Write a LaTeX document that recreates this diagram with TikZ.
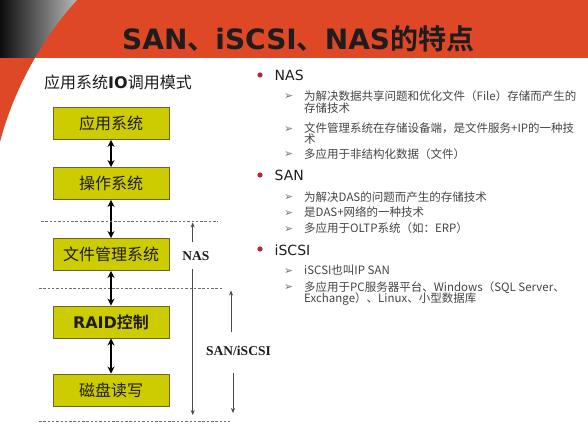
\documentclass[tikz,border=0pt]{standalone}
\usepackage{fontspec}
\setmainfont{DejaVu Sans}
\newfontfamily\cjk{Noto Sans CJK SC}[BoldFont={Noto Sans CJK SC Bold}]
\newfontfamily\dejavu{DejaVu Sans}
\newfontfamily\tnr{Liberation Serif}
\usetikzlibrary{arrows.meta}
\definecolor{hdrred}{RGB}{222,72,38}
\definecolor{boxfill}{RGB}{204,204,0}
\definecolor{boxline}{RGB}{105,100,50}
\definecolor{txtgray}{RGB}{68,68,68}
\definecolor{dotred}{RGB}{192,32,52}
\definecolor{dashgray}{RGB}{110,110,110}
\definecolor{darktxt}{RGB}{30,28,28}
\tikzset{
  iobox/.style={draw=boxline, line width=0.9pt, fill=boxfill, minimum width=116pt, minimum height=32pt, inner sep=0pt, text=darktxt, font=\cjk\fontsize{16}{16}\selectfont},
  link/.style={line width=2pt, {Stealth[length=7pt,width=7pt]}-{Stealth[length=7pt,width=7pt]}},
  sepline/.style={dashgray, line width=0.6pt, dash pattern=on 2.5pt off 1.8pt},
  rangearrow/.style={darktxt!80, line width=0.6pt, -{Stealth[length=5pt,width=4pt]}},
  rangelabel/.style={inner sep=0pt, text=darktxt, font=\tnr\bfseries\fontsize{13.5}{13.5}\selectfont},
  head/.style={anchor=base west, inner sep=0pt, text=darktxt, font=\dejavu\fontsize{14}{14}\selectfont},
  item/.style={anchor=base west, inner sep=0pt, text=txtgray, font=\cjk\fontsize{11.5}{11.5}\selectfont},
  arrowmark/.style={anchor=base west, inner sep=0pt, text=black!55, font=\dejavu\fontsize{11}{11}\selectfont},
}
\begin{document}
\begin{tikzpicture}[x=1pt, y=-1pt]
\useasboundingbox (0,0) rectangle (588,438);
% header band
\fill[hdrred] (0,0) rectangle (588,58);
\fill[hdrred] (0,0) -- (77,0) .. controls (40,40) and (12,95) .. (0,142) -- cycle;
\begin{scope}
  \clip (0,0) rectangle (588,58);
  \shade[left color=black!95, right color=black!28] (0,0) -- (77,0) .. controls (40,40) and (12,95) .. (0,142) -- cycle;
\end{scope}
\node[anchor=base west, inner sep=0pt, text=darktxt, font=\bfseries\fontsize{28}{28}\selectfont] (title) at (122,50)
  {\dejavu SAN\cjk 、\dejavu iSCSI\cjk 、\dejavu NAS\cjk 的特点};

% left column
\node[inner sep=0pt, text=darktxt, font=\cjk\fontsize{16}{16}\selectfont] (lefthead) at (118,82)
  {应用系统\textbf{\dejavu IO}调用模式};
\node[iobox] (b1) at (111,123.5) {应用系统};
\node[iobox] (b2) at (111,183.5) {操作系统};
\node[iobox] (b3) at (111,254.5) {文件管理系统};
\node[iobox] (b4) at (111,322) {\textbf{\dejavu RAID}\textbf{控制}};
\node[iobox] (b5) at (111,390) {磁盘读写};
\draw[link] (b1.south) -- (b2.north);
\draw[link] (b2.south) -- (b3.north);
\draw[link] (b3.south) -- (b4.north);
\draw[link] (b4.south) -- (b5.north);

\coordinate (d1a) at (41,221);
\coordinate (d1b) at (218,221);
\coordinate (d2a) at (39,288.5);
\coordinate (d2b) at (223,288.5);
\coordinate (d3a) at (39,421);
\coordinate (d3b) at (230,421);
\draw[sepline] (d1a) -- (d1b);
\draw[sepline] (d2a) -- (d2b);
\draw[sepline] (d3a) -- (d3b);

\node[rangelabel] (nas) at (196,256.5) {NAS};
\coordinate (nasup0) at (192.7,242);
\coordinate (nasup1) at (192.7,222.5);
\coordinate (nasdn0) at (192.7,269);
\coordinate (nasdn1) at (192.7,415);
\draw[rangearrow] (nasup0) -- (nasup1);
\draw[rangearrow] (nasdn0) -- (nasdn1);

\node[rangelabel] (san) at (238.5,351) {SAN/iSCSI};
\coordinate (sanup0) at (231,332);
\coordinate (sanup1) at (231,290.5);
\coordinate (sandn0) at (233,373);
\coordinate (sandn1) at (233,413);
\draw[rangearrow] (sanup0) -- (sanup1);
\draw[rangearrow] (sandn0) -- (sandn1);

% right column
\fill[dotred] (260,75) circle (2.6pt);
\node[head] (h1) at (274.5,80.5) {NAS};
\node[arrowmark] (m11) at (284,100) {➢};
\node[item] (i11) at (304,100.5) {为解决数据共享问题和优化文件（File）存储而产生的};
\node[item] (i12) at (304,112.5) {存储技术};
\node[arrowmark] (m12) at (284,132.5) {➢};
\node[item] (i21) at (304,133) {文件管理系统在存储设备端，是文件服务+IP的一种技};
\node[item] (i22) at (304,144) {术};
\node[arrowmark] (m13) at (284,158) {➢};
\node[item] (i31) at (304,158.5) {多应用于非结构化数据（文件）};

\fill[dotred] (260,175) circle (2.6pt);
\node[head] (h2) at (274.5,180.5) {SAN};
\node[arrowmark] (m21) at (284,200.5) {➢};
\node[item] (s1) at (304,201) {为解决DAS的问题而产生的存储技术};
\node[arrowmark] (m22) at (284,216.5) {➢};
\node[item] (s2) at (304,217) {是DAS+网络的一种技术};
\node[arrowmark] (m23) at (284,232.5) {➢};
\node[item] (s3) at (304,233) {多应用于OLTP系统（如：ERP）};

\fill[dotred] (260,249) circle (2.6pt);
\node[head] (h3) at (274.5,255) {iSCSI};
\node[arrowmark] (m31) at (284,274) {➢};
\node[item] (c1) at (304,274.5) {iSCSI也叫IP SAN};
\node[arrowmark] (m32) at (284,290.5) {➢};
\node[item] (c21) at (304,291) {多应用于PC服务器平台、Windows（SQL Server、};
\node[item] (c22) at (304,302) {Exchange）、Linux、小型数据库};
\end{tikzpicture}
\end{document}
